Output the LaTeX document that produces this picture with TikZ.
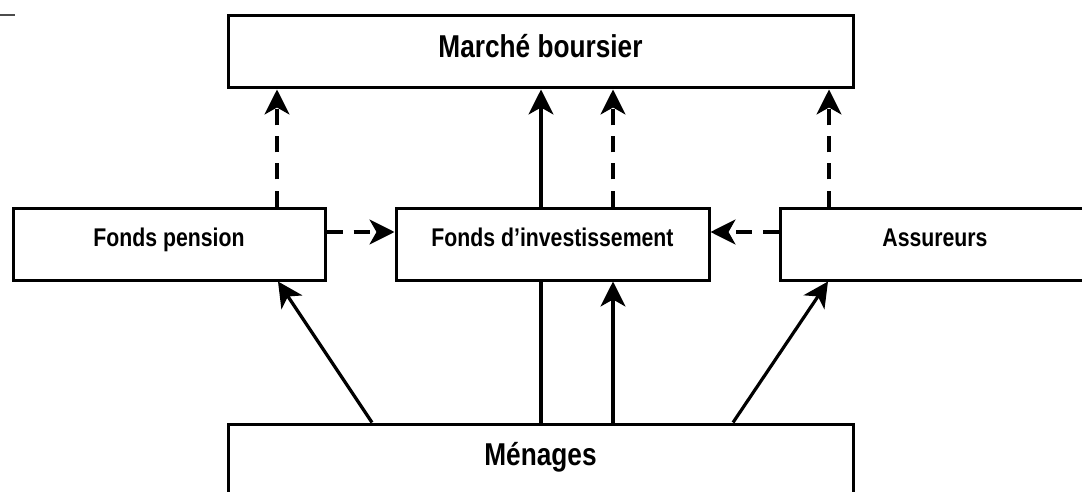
\documentclass[tikz,border=0pt]{standalone}
\usepackage{fontspec}
\newfontfamily\nar[FakeStretch=0.83]{Liberation Sans}
\usetikzlibrary{arrows.meta}
\pgfdeclarelayer{bg}
\pgfsetlayers{bg,main}
\begin{document}
\begin{tikzpicture}[x=0.5pt,y=-0.5pt,
  box/.style={draw, line width=1.5pt, fill=white, inner sep=0pt,
    font=\nar\bfseries\fontsize{12.8}{14}\selectfont,
    text height=9.2pt, text depth=6.5pt, minimum height=36pt},
  bigbox/.style={box, font=\nar\bfseries\fontsize{15.8}{18}\selectfont,
    text height=11.3pt, text depth=5.5pt},
  arr/.style={line width=1.6pt, -{Stealth[length=12.5pt,width=12.5pt,inset=3.5pt]}},
  darr/.style={arr, dash pattern=on 8pt off 5.5pt}]
\useasboundingbox (0,0) rectangle (1082,492);
\draw[line width=0.85pt, gray!60!black] (0,15) -- (15,15);
\node[bigbox, minimum width=312.5pt] (mb) at (540.5,52) {Marché boursier};
\node[box, minimum width=156pt] (fp) at (169,244) {Fonds pension};
\node[box, minimum width=156.5pt] (fi) at (552.5,244) {Fonds d’investissement};
\node[box, minimum width=155pt] (as) at (935,244) {Assureurs};
\node[bigbox, minimum width=312.5pt] (me) at (540.5,460) {Ménages};
\begin{pgfonlayer}{bg}
\draw[arr] (me.north -| 541,0) -- (mb.south -| 541,0);
\end{pgfonlayer}
\draw[darr] (fp.north -| 277,0) -- (mb.south -| 277,0);
\draw[arr] (me.north -| 613,0) -- (fi.south -| 613,0);
\draw[darr] (fi.north -| 613,0) -- (mb.south -| 613,0);
\draw[darr] (as.north -| 829,0) -- (mb.south -| 829,0);
\draw[darr] (fp.east |- 0,232) -- (fi.west |- 0,232);
\draw[darr] (as.west |- 0,232) -- (fi.east |- 0,232);
\draw[arr] (me.north -| 372,0) -- (fp.south -| 278,0);
\draw[arr] (me.north -| 733,0) -- (as.south -| 828,0);
\end{tikzpicture}
\end{document}
